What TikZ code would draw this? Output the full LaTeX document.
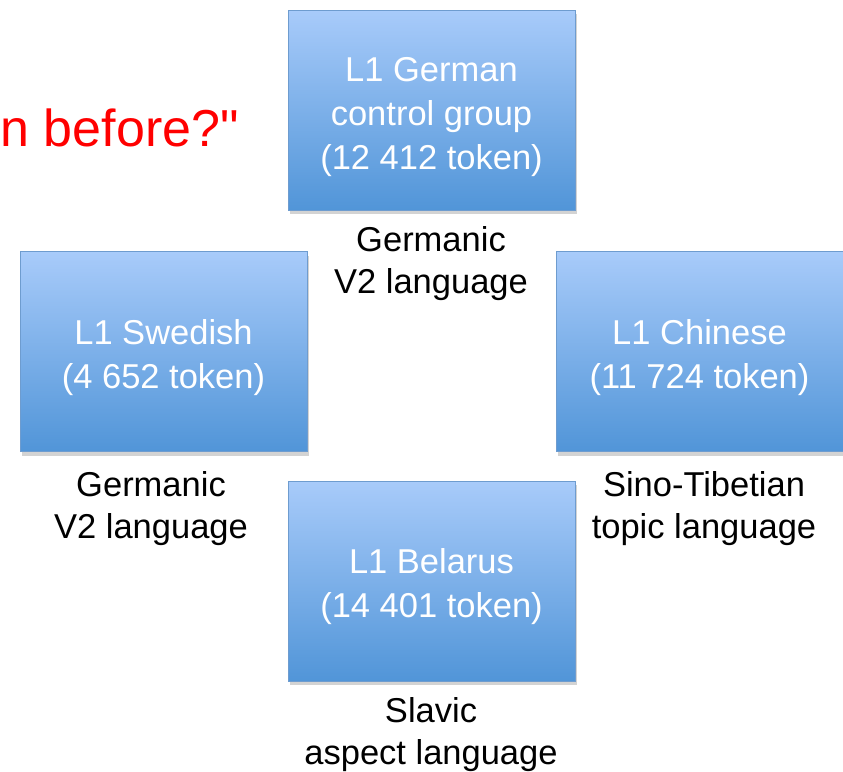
\documentclass[tikz,border=0pt]{standalone}
\usepackage{fontspec}
\setmainfont{Liberation Sans}[Ligatures=TeXOff]
\usetikzlibrary{shadows}
\definecolor{boxtop}{HTML}{A8CBFA}
\definecolor{boxbot}{HTML}{5195D8}
\definecolor{boxline}{HTML}{6E9CCF}
\begin{document}
\begin{tikzpicture}[x=1pt,y=-1pt,
  box/.style={draw=boxline, line width=0.8pt, top color=boxtop, bottom color=boxbot,
    minimum width=287pt, minimum height=200pt, inner sep=0pt,
    drop shadow={shadow xshift=1.5pt, shadow yshift=-4pt, opacity=0.35}},
  boxtext/.style={text=white, font=\fontsize{34.5}{44}\selectfont, align=center, inner sep=0pt},
  lab/.style={font=\fontsize{34.5}{42}\selectfont, align=center, inner sep=0pt}]
\useasboundingbox (0,0) rectangle (843,771);
\node[text=red, font=\fontsize{52}{60}\selectfont, anchor=base east, inner sep=0pt] (q) at (239,146) {n before?"};
\node[box] (ger) at (431.5,110) {};
\node[box] (swe) at (163.5,351.5) {};
\node[box] (chi) at (699.5,351.5) {};
\node[box] (bel) at (431.5,581) {};
\node[boxtext] (gert) at ([yshift=-7pt]ger.center) {L1 German\\control group\\(12 412 token)};
\node[boxtext] (swet) at ([yshift=-6pt]swe.center) {L1 Swedish\\(4 652 token)};
\node[boxtext] (chit) at ([yshift=-6pt]chi.center) {L1 Chinese\\(11 724 token)};
\node[boxtext] (belt) at ([yshift=-5.5pt]bel.center) {L1 Belarus\\(14 401 token)};
\node[lab] (lger) at (431,264) {Germanic\\V2 language};
\node[lab] (lswe) at (151,509) {Germanic\\V2 language};
\node[lab] (lchi) at (704,509) {Sino-Tibetian\\topic language};
\node[lab] (lbel) at (431,734.5) {Slavic\\aspect language};
\end{tikzpicture}
\end{document}
